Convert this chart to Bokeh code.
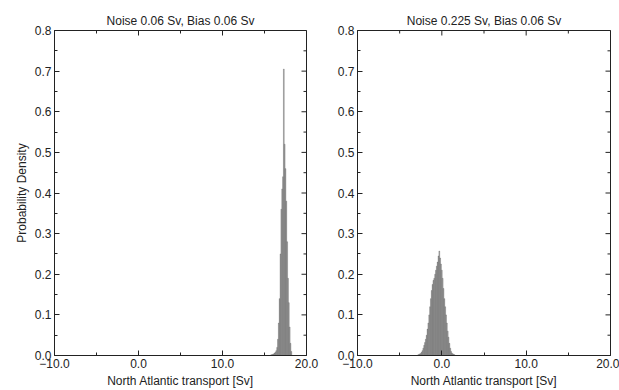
import math
from bokeh.plotting import figure
from bokeh.layouts import row
from bokeh.models import FixedTicker, Range1d, ColumnDataSource
from bokeh.embed import file_html
from bokeh.resources import INLINE

# ---------------- data ----------------
titles = ["Noise 0.06 Sv, Bias 0.06 Sv", "Noise 0.225 Sv, Bias 0.06 Sv"]
x_label = "North Atlantic transport [Sv]"
y_label = "Probability Density"
bin_width = 0.1

left_x = [15.8, 15.9, 16.0, 16.1, 16.2, 16.3, 16.4, 16.5, 16.6, 16.7, 16.8, 16.9,
          17.0, 17.1, 17.2, 17.3, 17.4, 17.5, 17.6, 17.7, 17.8, 17.9, 18.0, 18.1, 18.2]
left_density = [0.002, 0.002, 0.003, 0.004, 0.006, 0.008, 0.012, 0.02, 0.04, 0.08, 0.14, 0.25,
                 0.36, 0.41, 0.44, 0.705, 0.52, 0.46, 0.38, 0.28, 0.19, 0.13, 0.07, 0.03, 0.01]

right_x = [-2.8, -2.7, -2.6, -2.5, -2.4, -2.3, -2.2, -2.1, -2.0, -1.9, -1.8, -1.7, -1.6, -1.5,
           -1.4, -1.3, -1.2, -1.1, -1.0, -0.9, -0.8, -0.7, -0.6, -0.5, -0.4, -0.3, -0.2, -0.1,
           0.0, 0.1, 0.2, 0.3, 0.4, 0.5, 0.6, 0.7, 0.8, 0.9, 1.0, 1.1, 1.2, 1.3, 1.4, 1.5]
right_density = [0.002, 0.003, 0.004, 0.005, 0.008, 0.012, 0.018, 0.025, 0.032, 0.04, 0.05, 0.065,
                 0.08, 0.10, 0.12, 0.14, 0.16, 0.175, 0.185, 0.19, 0.20, 0.21, 0.22, 0.23, 0.245,
                 0.257, 0.24, 0.225, 0.21, 0.19, 0.165, 0.14, 0.12, 0.10, 0.08, 0.06, 0.045, 0.03,
                 0.018, 0.01, 0.006, 0.004, 0.003, 0.002]

x_major = [-10, 0, 10, 20]
x_minor = [-5, 5, 15]
x_tick_labels = {-10: "\u221210.0", 0: "0.0", 10: "10.0", 20: "20.0"}
y_major = [0.0, 0.1, 0.2, 0.3, 0.4, 0.5, 0.6, 0.7, 0.8]
y_minor = [0.05, 0.15, 0.25, 0.35, 0.45, 0.55, 0.65, 0.75]
y_tick_labels = {0.0: "0.0", 0.1: "0.1", 0.2: "0.2", 0.3: "0.3", 0.4: "0.4",
                 0.5: "0.5", 0.6: "0.6", 0.7: "0.7", 0.8: "0.8"}

X_MAX = 20
Y_MAX = 0.8
FONT = "Liberation Sans"
INK = "#222222"


def style_axis(ax):
    ax.major_tick_in = 5
    ax.major_tick_out = 0
    ax.minor_tick_in = 3
    ax.minor_tick_out = 0
    ax.major_tick_line_color = INK
    ax.minor_tick_line_color = INK
    ax.axis_line_color = INK
    ax.major_label_text_font = FONT
    ax.major_label_text_color = INK
    ax.major_label_text_font_size = "12px"
    ax.major_label_text_line_height = 1.0
    ax.major_label_standoff = 3
    ax.axis_label_text_font = FONT
    ax.axis_label_text_font_style = "normal"
    ax.axis_label_text_color = INK
    ax.axis_label_text_font_size = "12px"
    ax.axis_label_text_line_height = 1.0
    ax.axis_label_standoff = 3


def make_panel(title, xs, ys, width, border_left, border_right, show_ylabel):
    p = figure(width=width, height=390, output_backend="svg", toolbar_location=None,
               x_range=Range1d(-10, X_MAX), y_range=Range1d(0, Y_MAX),
               min_border_left=border_left, min_border_right=border_right,
               min_border_top=30, min_border_bottom=32)
    p.title.text = title
    p.title.align = "center"
    p.title.text_font = FONT
    p.title.text_font_size = "12px"
    p.title.text_font_style = "normal"
    p.title.text_color = INK
    p.title.text_line_height = 1.0
    p.title.standoff = 6
    p.xgrid.visible = False
    p.ygrid.visible = False
    p.outline_line_color = INK
    p.outline_line_width = 1
    p.background_fill_color = "white"
    p.border_fill_color = "white"

    src = ColumnDataSource(dict(x=xs, top=ys))
    p.vbar(x="x", top="top", width=bin_width, source=src,
           fill_color="#a2a2a2", line_color="#4a4a4a", line_width=0.35, line_alpha=0.8)

    # mirrored inward ticks on the top and right frame edges (clipped to frame)
    p.scatter(x=x_major, y=[Y_MAX] * len(x_major), marker="dash", size=10,
              angle=math.pi / 2, line_color=INK, line_width=1)
    p.scatter(x=x_minor, y=[Y_MAX] * len(x_minor), marker="dash", size=6,
              angle=math.pi / 2, line_color=INK, line_width=1)
    p.scatter(x=[X_MAX] * len(y_major), y=y_major, marker="dash", size=10,
              line_color=INK, line_width=1)
    p.scatter(x=[X_MAX] * len(y_minor), y=y_minor, marker="dash", size=6,
              line_color=INK, line_width=1)

    xax = p.xaxis[0]
    xax.ticker = FixedTicker(ticks=x_major, minor_ticks=x_minor)
    xax.major_label_overrides = x_tick_labels
    xax.axis_label = x_label
    style_axis(xax)

    yax = p.yaxis[0]
    yax.ticker = FixedTicker(ticks=y_major, minor_ticks=y_minor)
    yax.major_label_overrides = y_tick_labels
    style_axis(yax)
    if show_ylabel:
        yax.axis_label = y_label
    return p


p1 = make_panel(titles[0], left_x, left_density, 330, 54, 24, True)
p2 = make_panel(titles[1], right_x, right_density, 289, 27, 9, False)

layout = row(p1, p2)
open("out.html", "w").write(file_html(layout, INLINE))
